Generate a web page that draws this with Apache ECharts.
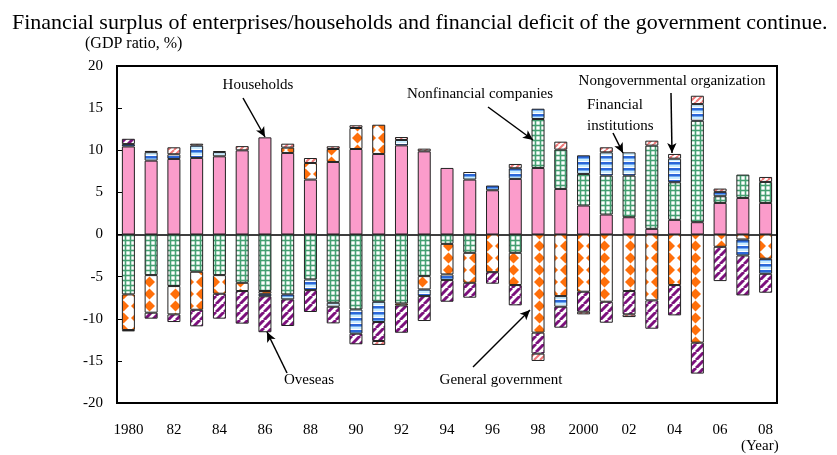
<!DOCTYPE html>
<html>
<head>
<meta charset="utf-8">
<script src="https://cdn.jsdelivr.net/npm/echarts@6/dist/echarts.min.js"></script>
<style>
  html, body { margin: 0; padding: 0; background: #fff; }
  #chart { width: 837px; height: 455px; }
</style>
</head>
<body>
<div id="chart"></div>
<script>
var years = ['1980', '81', '82', '83', '84', '85', '86', '87', '88', '89',
    '90', '91', '92', '93', '94', '95', '96', '97', '98', '99',
    '2000', '01', '02', '03', '04', '05', '06', '07', '08'];

// GDP ratio, %
var households = [10.45, 8.77, 8.97, 9.09, 9.28, 9.99, 11.53, 9.68, 6.52, 8.61,
    10.15, 9.56, 10.58, 9.87, 7.90, 6.52, 5.25, 6.60, 7.90, 5.41,
    3.44, 2.37, 2.05, 0.67, 1.74, 1.46, 3.75, 4.34, 3.75];
var nonfinancial = [-7.11, -4.82, -6.12, -4.42, -4.82, -5.73, -6.71, -7.11, -5.33, -8.10,
    -8.89, -7.98, -8.18, -4.94, -1.11, -2.17, null, -2.17, 5.81, 4.66,
    3.75, 4.62, 4.94, 9.88, 4.46, 12.04, 0.79, 2.77, 2.49];
var government = [-4.23, -4.46, -3.36, -4.51, -2.21, -0.98, -0.32, 0.63, 1.97, 1.54,
    2.49, 3.47, -0.24, -1.58, -3.63, -3.56, -4.47, -3.83, -11.65, -7.31,
    -6.79, -7.98, -6.71, -7.82, -6.00, -12.84, -1.46, -0.59, -2.88];
var financial = [0.28, 1.00, 0.55, 1.46, 0.50, null, -0.30, -0.59, -1.27, -0.47,
    -2.88, -2.41, 0.64, -0.79, -0.67, 0.90, 0.56, 1.26, 1.22, -1.26,
    2.21, 2.76, 2.76, null, 2.80, 1.98, 0.52, -1.90, -1.78];
var overseas = [0.63, -0.71, -0.91, -1.97, -2.96, -3.87, -4.27, -3.16, -2.60, -1.98,
    -1.26, -2.25, -3.24, -2.96, -2.57, -1.77, -1.37, -2.41, -2.49, -2.49,
    -2.37, -2.49, -2.77, -3.36, -3.60, -3.67, -4.07, -4.74, -2.25];
var nongovernmental = [-0.16, 0.15, 0.83, 0.23, 0.12, 0.50, null, 0.47, 0.59, 0.32,
    0.32, -0.47, 0.35, 0.32, null, null, null, 0.51, -0.87, 0.95,
    -0.32, 0.60, -0.32, 0.59, 0.56, 0.99, 0.39, null, 0.59];

var serif = '"Liberation Serif", "DejaVu Serif", serif';

function pattern(w, h, draw) {
    var c = document.createElement('canvas');
    c.width = w;
    c.height = h;
    var ctx = c.getContext('2d');
    ctx.fillStyle = '#fff';
    ctx.fillRect(0, 0, w, h);
    draw(ctx, w, h);
    return {image: c, repeat: 'repeat'};
}

var greenGrid = pattern(5, 5, function (ctx) {
    ctx.fillStyle = '#44a072';
    ctx.fillRect(0, 0, 5, 5);
    ctx.fillStyle = '#fff';
    ctx.fillRect(1.3, 1.3, 3.4, 3.4);
});
var blueStripe = pattern(4, 6, function (ctx) {
    ctx.fillStyle = '#2c67d8';
    ctx.fillRect(0, 0, 4, 2);
    ctx.fillStyle = '#6da9f0';
    ctx.fillRect(0, 2, 4, 1);
    ctx.fillStyle = '#c9ecff';
    ctx.fillRect(0, 3, 4, 2);
});
var orangeDiamond = pattern(13, 12, function (ctx) {
    ctx.fillStyle = '#ff6f0a';
    ctx.beginPath();
    ctx.moveTo(6.5, 0.5);
    ctx.lineTo(12, 6);
    ctx.lineTo(6.5, 11.5);
    ctx.lineTo(1, 6);
    ctx.closePath();
    ctx.fill();
});
function diagonal(color, size, lw) {
    return pattern(size, size, function (ctx) {
        ctx.strokeStyle = color;
        ctx.lineWidth = lw;
        for (var x = -size; x <= size; x += size) {
            ctx.beginPath();
            ctx.moveTo(x, size);
            ctx.lineTo(x + size, 0);
            ctx.stroke();
        }
    });
}
var purpleStripe = diagonal('#7d117d', 8, 3);
var salmonStripe = diagonal('#f07878', 6, 2);

function barSeries(name, data, fill) {
    return {
        name: name,
        type: 'bar',
        stack: 'sector',
        barWidth: 13,
        data: data,
        itemStyle: {color: fill, borderColor: '#222', borderWidth: 1}
    };
}

function arrow(x1, y1, x2, y2) {
    return [{x: x1, y: y1}, {x: x2, y: y2}];
}

var series = [
    barSeries('Households', households, '#fb9ccb'),
    barSeries('Nonfinancial companies', nonfinancial, greenGrid),
    barSeries('General government', government, orangeDiamond),
    barSeries('Financial institutions', financial, blueStripe),
    barSeries('Oveseas', overseas, purpleStripe),
    barSeries('Nongovernmental organization', nongovernmental, salmonStripe)
];
series[0].markLine = {
    silent: true,
    animation: false,
    symbol: ['none', 'arrow'],
    symbolSize: [7, 10],
    label: {show: false},
    lineStyle: {color: '#000', width: 1.5, type: 'solid'},
    data: [
        arrow(243, 98, 265, 137),
        arrow(488, 107, 533, 140),
        arrow(671, 93, 672, 153),
        arrow(613, 133, 623, 153),
        arrow(287, 373, 267, 332),
        arrow(473, 367, 530, 310)
    ]
};

var label = '15px ' + serif;

var chart = echarts.init(document.getElementById('chart'));
chart.setOption({
    animation: false,
    textStyle: {fontFamily: serif},
    title: {
        text: 'Financial surplus of enterprises/households and financial deficit of the government continue.',
        left: 7,
        top: 7,
        textStyle: {fontFamily: serif, fontSize: 22, fontWeight: 'normal', color: '#000'}
    },
    grid: {
        left: 117, right: 60, top: 66, bottom: 52,
        show: true, borderColor: '#000', borderWidth: 2, backgroundColor: '#fff'
    },
    xAxis: [{
        type: 'category',
        data: years,
        axisLine: {onZero: true, lineStyle: {color: '#000', width: 1.5}},
        axisTick: {inside: true, length: 5, lineStyle: {color: '#000'}},
        axisLabel: {show: false}
    }, {
        type: 'category',
        data: years,
        position: 'bottom',
        axisLine: {show: false, onZero: false},
        axisTick: {show: false},
        axisLabel: {
            interval: 1,
            margin: 20,
            color: '#000',
            fontFamily: serif,
            fontSize: 15
        }
    }],
    yAxis: {
        type: 'value',
        min: -20,
        max: 20,
        interval: 5,
        splitLine: {show: false},
        axisLine: {show: true, lineStyle: {color: '#000', width: 2}},
        axisTick: {show: true, inside: true, length: 5, lineStyle: {color: '#000'}},
        axisLabel: {color: '#000', fontFamily: serif, fontSize: 15, margin: 14}
    },
    graphic: [
        {type: 'text', left: 85, top: 36, style: {text: '(GDP ratio, %)', font: '16px ' + serif, fill: '#000'}},
        {type: 'text', left: 741, top: 439, style: {text: '(Year)', font: label, fill: '#000'}},
        {type: 'text', x: 258, y: 85, style: {text: 'Households', font: label, fill: '#000', textAlign: 'center', textVerticalAlign: 'middle'}},
        {type: 'text', x: 480, y: 94, style: {text: 'Nonfinancial companies', font: label, fill: '#000', textAlign: 'center', textVerticalAlign: 'middle'}},
        {type: 'text', x: 672, y: 81, style: {text: 'Nongovernmental organization', font: label, fill: '#000', textAlign: 'center', textVerticalAlign: 'middle'}},
        {type: 'text', x: 587, y: 105, style: {text: 'Financial', font: label, fill: '#000', textVerticalAlign: 'middle'}},
        {type: 'text', x: 587, y: 126, style: {text: 'institutions', font: label, fill: '#000', textVerticalAlign: 'middle'}},
        {type: 'text', x: 309, y: 380, style: {text: 'Oveseas', font: label, fill: '#000', textAlign: 'center', textVerticalAlign: 'middle'}},
        {type: 'text', x: 501, y: 380, style: {text: 'General government', font: label, fill: '#000', textAlign: 'center', textVerticalAlign: 'middle'}}
    ],
    series: series
});
</script>
</body>
</html>
